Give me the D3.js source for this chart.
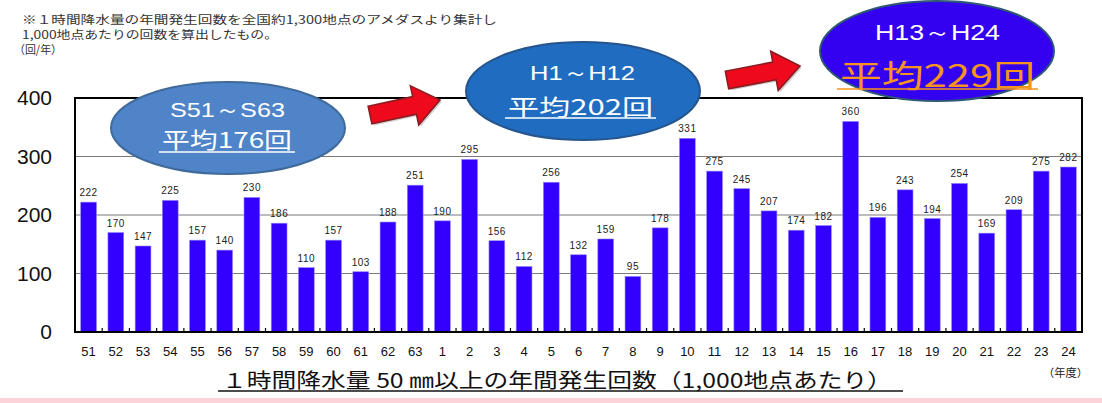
<!DOCTYPE html>
<html>
<head>
<meta charset="utf-8">
<script src="https://cdn.jsdelivr.net/npm/d3@7"></script>
<style>
  html, body { margin: 0; padding: 0; background: #fff; }
  svg { display: block; }
</style>
</head>
<body>
<svg id="chart" width="1102" height="403"></svg>
<script>
// Fiscal years: Showa 51–63, then Heisei 1–24
const years = ["51","52","53","54","55","56","57","58","59","60","61","62","63",
  "1","2","3","4","5","6","7","8","9","10","11","12","13","14","15","16","17","18","19","20","21","22","23","24"];
// Yearly occurrences of hourly rainfall >= 50mm per 1,000 stations
const counts = [222,170,147,225,157,140,230,186,110,157,103,188,251,
  190,295,156,112,256,132,159,95,178,331,275,245,207,174,182,360,196,243,194,254,169,209,275,282];
const yTicks = [0, 100, 200, 300, 400];
const notes = [
  "※１時間降水量の年間発生回数を全国約1,300地点のアメダスより集計し",
  "1,000地点あたりの回数を算出したもの。",
  "（回/年）"
];
const periods = [
  { range: "S51～S63", avg: "平均176回" },
  { range: "H1～H12", avg: "平均202回" },
  { range: "H13～H24", avg: "平均229回" }
];
const title = "１時間降水量 50 ㎜以上の年間発生回数（1,000地点あたり）";
const unitLabel = "（年度）";

const svg = d3.select("#chart");
const plot = { left: 75, right: 1082, top: 98, bottom: 332 };

const x = d3.scaleBand().domain(years).range([plot.left, plot.right]).paddingInner(0.42).paddingOuter(0.21);
const y = d3.scaleLinear().domain([0, 400]).range([plot.bottom, plot.top]);

const jp = "'Noto Sans CJK JP', 'Noto Sans', sans-serif";
const latin = "'Liberation Sans', Arial, sans-serif";

// pink strip along the bottom edge
svg.append("rect").attr("x", 0).attr("y", 398).attr("width", 1102).attr("height", 5).attr("fill", "#fcd3d8");

// explanatory notes
const noteLayout = [
  { x: 22, y: 24, w: 475 },
  { x: 22, y: 39, w: 256 },
  { x: 14, y: 54, w: 48 }
];
svg.append("g").selectAll("text").data(notes).join("text")
  .attr("x", (d, i) => noteLayout[i].x)
  .attr("y", (d, i) => noteLayout[i].y)
  .attr("textLength", (d, i) => noteLayout[i].w)
  .attr("lengthAdjust", "spacingAndGlyphs")
  .attr("font-family", jp).attr("font-size", 11.5).attr("fill", "#333")
  .text(d => d);

// horizontal gridlines
svg.append("g").selectAll("line").data(yTicks.filter(t => t > 0 && t < 400)).join("line")
  .attr("x1", plot.left).attr("x2", plot.right)
  .attr("y1", d => y(d)).attr("y2", d => y(d))
  .attr("stroke", "#7a7a7a").attr("stroke-width", 1.2);

// bars
svg.append("g").selectAll("rect").data(counts).join("rect")
  .attr("x", (d, i) => x(years[i]))
  .attr("y", d => y(d))
  .attr("width", x.bandwidth())
  .attr("height", d => y(0) - y(d))
  .attr("fill", "#3300ff")
  .attr("stroke", "#8f86ff").attr("stroke-width", 0.6);

// value labels
svg.append("g").selectAll("text").data(counts).join("text")
  .attr("x", (d, i) => x(years[i]) + x.bandwidth() / 2)
  .attr("y", d => y(d) - 6)
  .attr("text-anchor", "middle")
  .attr("font-family", latin).attr("font-size", 10).attr("fill", "#222")
  .attr("letter-spacing", 0.5)
  .text(d => d);

// small tick marks at the category boundaries
const step = x.step();
svg.append("g").selectAll("line").data(d3.range(1, years.length)).join("line")
  .attr("x1", i => plot.left + i * step).attr("x2", i => plot.left + i * step)
  .attr("y1", plot.bottom).attr("y2", plot.bottom - 4)
  .attr("stroke", "#000").attr("stroke-width", 1.2);

// plot frame
svg.append("rect")
  .attr("x", plot.left).attr("y", plot.top)
  .attr("width", plot.right - plot.left).attr("height", plot.bottom - plot.top)
  .attr("fill", "none").attr("stroke", "#000").attr("stroke-width", 2);

// y axis labels
const yAxis = d3.axisLeft(y).tickValues(yTicks).tickSize(0).tickPadding(0);
const gy = svg.append("g").attr("transform", `translate(52,0)`).call(yAxis);
gy.select(".domain").remove();
gy.selectAll("text").attr("font-family", latin).attr("font-size", 21).attr("fill", "#111");

// x axis labels (narrow)
const xAxis = d3.axisBottom(x).tickSize(0).tickPadding(0);
const gx = svg.append("g").attr("transform", `translate(0,${plot.bottom})`).call(xAxis);
gx.select(".domain").remove();
gx.selectAll("text")
  .attr("font-family", "'Liberation Sans Narrow', 'Liberation Sans', sans-serif")
  .attr("font-size", 13).attr("fill", "#111")
  .attr("y", 24).attr("dy", 0);

// chart title (underlined)
svg.append("text")
  .attr("x", 222).attr("y", 388)
  .attr("textLength", 670).attr("lengthAdjust", "spacingAndGlyphs")
  .attr("font-family", jp).attr("font-size", 20).attr("fill", "#111")
  .text(title);
svg.append("line").attr("x1", 218).attr("x2", 903)
  .attr("y1", 391).attr("y2", 391).attr("stroke", "#111").attr("stroke-width", 1.3);

svg.append("text").attr("x", 1043).attr("y", 377)
  .attr("textLength", 45).attr("lengthAdjust", "spacingAndGlyphs")
  .attr("font-family", jp).attr("font-size", 11).attr("fill", "#222")
  .text(unitLabel);

// red arrows between period callouts
function arrow(x0, y0, x1, y1) {
  const len = Math.hypot(x1 - x0, y1 - y0);
  const ang = Math.atan2(y1 - y0, x1 - x0) * 180 / Math.PI;
  const shaft = 9, head = 20, headLen = 26;
  const pts = [[0, -shaft], [len - headLen, -shaft], [len - headLen, -head], [len, 0],
               [len - headLen, head], [len - headLen, shaft], [0, shaft]];
  const g = svg.append("g").attr("transform", `translate(${x0},${y0}) rotate(${ang})`);
  g.append("polygon").attr("points", pts.map(p => `${p[0] + 1.5},${p[1] + 2}`).join(" "))
    .attr("fill", "#000").attr("opacity", 0.18);
  g.append("polygon").attr("points", pts.map(p => p.join(",")).join(" "))
    .attr("fill", "#ee0a1c").attr("stroke", "#8a1c22").attr("stroke-width", 1.6)
    .attr("stroke-linejoin", "miter");
}
arrow(370, 115, 440, 100);
arrow(727, 80, 800, 66);

// period callout ellipses
const callouts = [
  { cx: 228, cy: 128, rx: 117, ry: 46, fill: "#4f84c9", stroke: "#3f6a9a",
    rangeSize: 21, rangeX: 170, rangeW: 115, rangeY: 117,
    avgSize: 22, avgX: 162, avgW: 130, avgY: 148, ul: 152, avgColor: "#fff" },
  { cx: 583, cy: 91, rx: 117, ry: 49, fill: "#1f6cc0", stroke: "#25558c",
    rangeSize: 21, rangeX: 530, rangeW: 105, rangeY: 80,
    avgSize: 22, avgX: 508, avgW: 145, avgY: 115, ul: 118, avgColor: "#fff" },
  { cx: 937, cy: 51, rx: 117, ry: 50, fill: "#3300f0", stroke: "#2e5874",
    rangeSize: 22, rangeX: 875, rangeW: 125, rangeY: 40,
    avgSize: 31, avgX: 840, avgW: 195, avgY: 87, ul: 89, avgColor: "#f7941d" }
];
callouts.forEach((c, i) => {
  const g = svg.append("g");
  g.append("ellipse").attr("cx", c.cx).attr("cy", c.cy).attr("rx", c.rx).attr("ry", c.ry)
    .attr("fill", c.fill).attr("stroke", c.stroke).attr("stroke-width", 2);
  g.append("text").attr("x", c.rangeX).attr("y", c.rangeY)
    .attr("textLength", c.rangeW).attr("lengthAdjust", "spacingAndGlyphs")
    .attr("font-family", latin).attr("font-size", c.rangeSize).attr("fill", "#fff")
    .text(periods[i].range);
  g.append("text").attr("x", c.avgX).attr("y", c.avgY)
    .attr("textLength", c.avgW).attr("lengthAdjust", "spacingAndGlyphs")
    .attr("font-family", jp).attr("font-size", c.avgSize).attr("fill", c.avgColor)
    .text(periods[i].avg);
  g.append("line").attr("x1", c.avgX - 3).attr("x2", c.avgX + c.avgW + 3)
    .attr("y1", c.ul).attr("y2", c.ul).attr("stroke", c.avgColor).attr("stroke-width", 1.5);
});
</script>
</body>
</html>
